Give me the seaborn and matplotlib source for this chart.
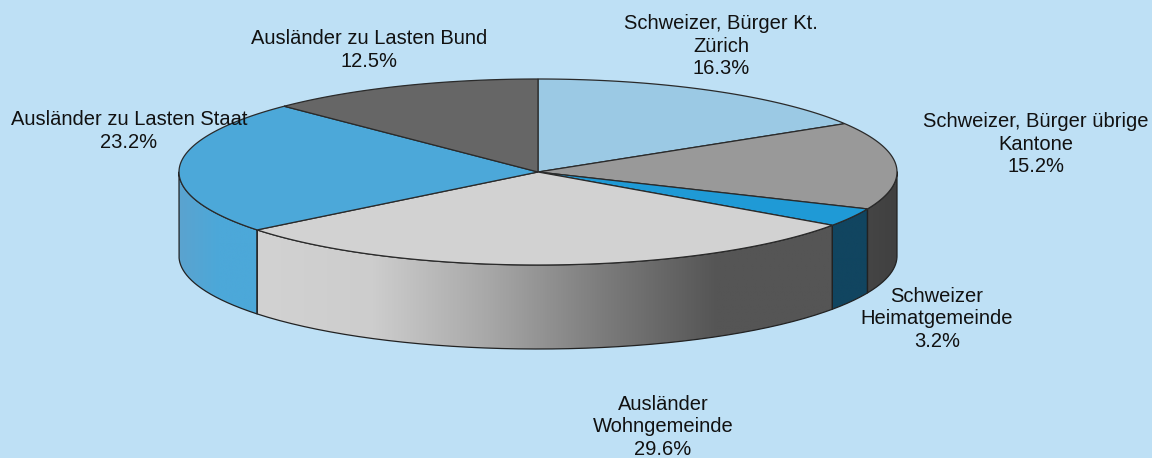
import numpy as np
import pandas as pd
import matplotlib
matplotlib.use("Agg")
import matplotlib.pyplot as plt
import seaborn as sns
from matplotlib.colors import LinearSegmentedColormap
from matplotlib.patches import Polygon

# Data
labels = ["Schweizer, Bürger Kt.\nZürich", "Schweizer, Bürger übrige\nKantone", "Schweizer\nHeimatgemeinde",
          "Ausländer\nWohngemeinde", "Ausländer zu Lasten Staat", "Ausländer zu Lasten Bund"]
shares = [16.3, 15.2, 3.2, 29.6, 23.2, 12.5]
top_colors = ["#9bc9e4", "#999999", "#1f9ad6", "#d2d2d2", "#4ca8d9", "#666666"]
side_colors = [["#9bc9e4"], ["#454545", "#404040"], ["#114560", "#114560"],
               ["#d2d2d2", "#cdcdcd", "#a8a8a8", "#7c7c7c", "#555555", "#555555"],
               ["#5ba3cf", "#4ca8d9", "#4ca8d9"], ["#666666"]]
label_pos = [(721, 46), (1036, 144), (937, 319), (663, 427), (129, 131), (369, 50)]

BG = "#bee0f5"
CX, CY, RX, RY, DEPTH = 538, 172, 359, 93, 84

sns.set_theme(style="white")
plt.rcParams['font.family'] = ['Liberation Sans', 'DejaVu Sans']

df = pd.DataFrame({"label": labels, "share": shares})
df["start"] = df["share"].cumsum().shift(fill_value=0) / df["share"].sum() * 2 * np.pi
df["end"] = df["share"].cumsum() / df["share"].sum() * 2 * np.pi


def rim(t, drop=0):
    # clockwise from 12 o'clock on the tilted ellipse
    return CX + RX * np.sin(t), CY - RY * np.cos(t) + drop


fig = plt.figure(figsize=(11.52, 4.58), dpi=100, facecolor=BG)
ax = fig.add_axes([0, 0, 1, 1])
ax.set_xlim(0, 1152)
ax.set_ylim(458, 0)
ax.axis("off")

# Outer walls, only the front half is visible
for i, row in df.iterrows():
    a, b = max(row["start"], np.pi / 2), min(row["end"], 3 * np.pi / 2)
    if a >= b:
        continue
    t = np.linspace(a, b, 120)
    x, y = rim(t)
    x2, y2 = rim(t[::-1], DEPTH)
    wall = Polygon(np.r_[np.c_[x, y], np.c_[x2, y2]], closed=True, fc="none", ec="none", zorder=2)
    ax.add_patch(wall)
    stops = side_colors[i] if len(side_colors[i]) > 1 else side_colors[i] * 2
    cmap = LinearSegmentedColormap.from_list(f"side{i}", stops)
    # Gradient runs from left to right across the wall
    left, right = min(x.min(), x2.min()), max(x.max(), x2.max())
    im = ax.imshow(np.linspace(0, 1, 256)[None, :], cmap=cmap, aspect="auto", zorder=2,
                   extent=(left, right, y2.max() + 1, y.min() - 1))
    im.set_clip_path(wall)
    ax.plot(np.r_[x, x2[0], x2, x[0]], np.r_[y, y2[0], y2, y[0]], color="#222222", lw=0.9, zorder=3)

ax.set_xlim(0, 1152)
ax.set_ylim(458, 0)

# Top face wedges
for i, row in df.iterrows():
    t = np.linspace(row["start"], row["end"], 120)
    x, y = rim(t)
    ax.add_patch(Polygon(np.r_[[[CX, CY]], np.c_[x, y]], closed=True, fc=top_colors[i],
                         ec="#2a2a2a", lw=0.9, zorder=4))

for (px, py), txt, share in zip(label_pos, df["label"], df["share"]):
    ax.text(px, py, f"{txt}\n{share:.1f}%", ha="center", va="center", fontsize=14.5,
            color="#111111", linespacing=1.25, zorder=5)

fig.savefig("out.png", dpi=100, facecolor=BG)
